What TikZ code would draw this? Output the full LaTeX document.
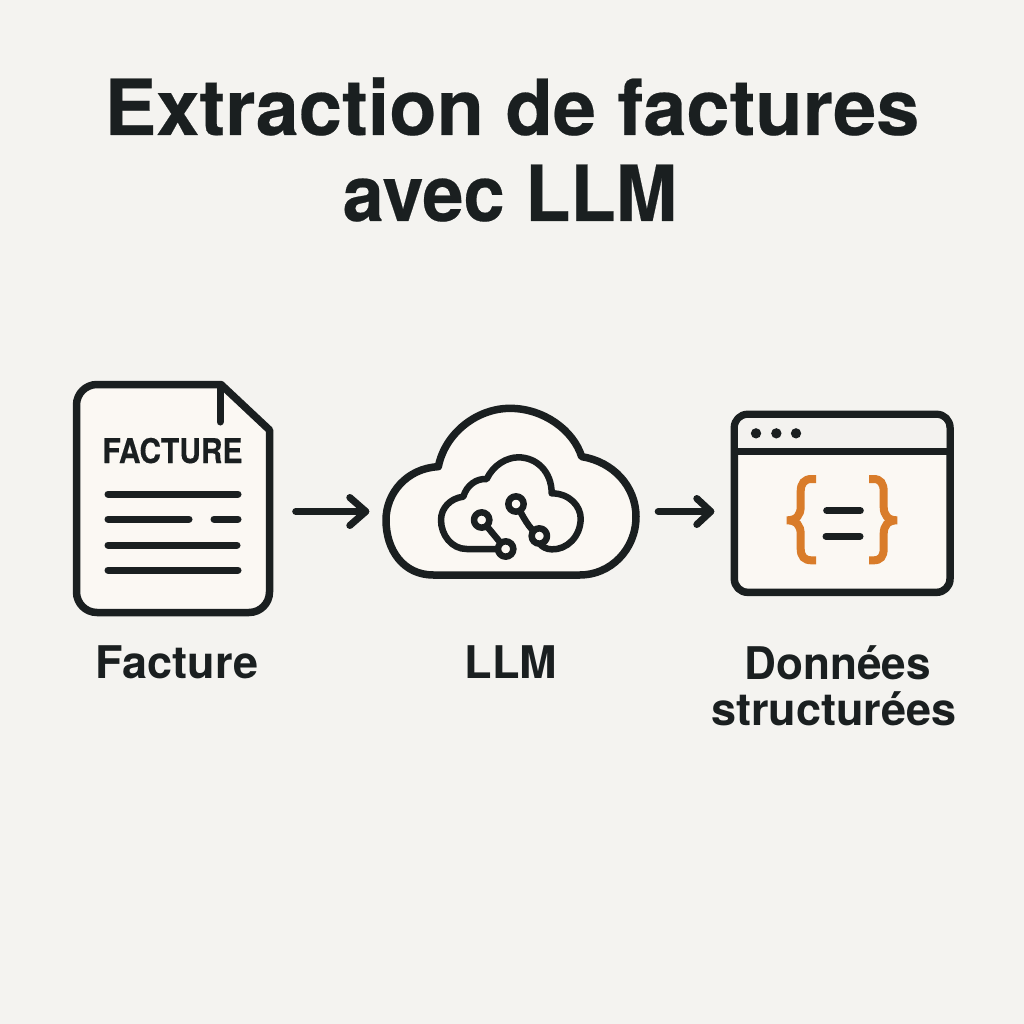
\documentclass[tikz,border=0pt]{standalone}
\usepackage{fontspec}
\setmainfont{TeX Gyre Heros}
\newfontfamily\titlefont[FakeBold=0.3]{TeX Gyre Heros}
\newfontfamily\labelfont{TeX Gyre Heros}
\definecolor{bgc}{HTML}{F4F3F0}
\definecolor{ink}{HTML}{1A1F20}
\definecolor{paper}{HTML}{FBF8F3}
\definecolor{barc}{HTML}{F3F2EF}
\definecolor{brace}{HTML}{D97C2A}
\tikzset{
  titletext/.style={inner sep=0pt,text=ink,font=\titlefont\bfseries\fontsize{77.5}{77.5}\selectfont,anchor=base},
  labeltext/.style={inner sep=0pt,text=ink,font=\labelfont\bfseries\fontsize{45}{45}\selectfont,anchor=base},
  outline/.style={draw=ink,line width=7.5pt,line join=round,fill=paper},
  rule/.style={draw=ink,line width=7pt,line cap=round},
  thin/.style={draw=ink,line width=6.5pt,line cap=round,line join=round},
  flow/.style={draw=ink,line width=7pt,line cap=round,line join=round},
  zone/.style={inner sep=0pt,minimum width=#1,minimum height=10pt},
}
\begin{document}
\begin{tikzpicture}[x=1pt,y=-1pt]
\useasboundingbox (0,0) rectangle (1024,1024);
\fill[bgc] (0,0) rectangle (1024,1024);
% title
\node[titletext] (t1) at (512,135) {Extraction de factures};
\node[titletext,xscale=0.955] (t2) at (510,221) {avec LLM};
% document
\draw[outline] (221,384.5) -- (269.5,430) -- (269.5,592) arc[start angle=0,end angle=90,radius=20.5]
  -- (97,612.5) arc[start angle=90,end angle=180,radius=20.5] -- (76.5,405) arc[start angle=180,end angle=270,radius=20.5] -- cycle;
\draw[rule] (220,386) -- (220,422);
\node[inner sep=0pt,text=ink,font=\titlefont\bfseries\fontsize{34}{34}\selectfont,anchor=base,xscale=0.88] (ftxt) at (172.5,463) {FACTURE};
\draw[rule] (108,494) -- (238,494);
\draw[rule] (108,519) -- (189,519);
\draw[rule] (214,519) -- (238,519);
\draw[rule] (108,545) -- (237,545);
\draw[rule] (108,570) -- (238,570);
\node[zone=193pt] (doc) at (173,511.5) {};
% cloud
\begin{scope}[shift={(370,400)},x=0.33333pt,y=-0.33333pt]
\draw[outline] (190,525) .. controls (100,525) and (48,450) .. (48,360)
  .. controls (48,280) and (110,205) .. (205,200)
  .. controls (225,100) and (320,25) .. (420,25)
  .. controls (520,25) and (610,90) .. (635,170)
  .. controls (730,185) and (798,260) .. (798,350)
  .. controls (798,450) and (720,525) .. (630,525) -- cycle;
\draw[thin] (385,447) -- (290,447) .. controls (245,447) and (213,405) .. (213,360)
  .. controls (213,325) and (240,295) .. (280,290)
  .. controls (290,255) and (320,235) .. (350,237)
  .. controls (370,195) and (410,172) .. (445,172)
  .. controls (500,172) and (545,215) .. (545,280)
  .. controls (600,280) and (632,320) .. (632,355)
  .. controls (632,410) and (590,450) .. (545,448) .. controls (530,448) and (515,440) .. (508,430);
\draw[thin] (335,360) -- (407,447);
\draw[thin] (438,312) .. controls (460,350) and (475,385) .. (508,408);
\foreach \cx/\cy in {335/360,407/447,438/312,508/408}
  \draw[thin,fill=paper] (\cx,\cy) circle[radius=23];
\end{scope}
\node[zone=242pt] (cloud) at (511,511.5) {};
% window
\begin{scope}[shift={(645,400)},x=0.33333pt,y=-0.33333pt]
\draw[outline] (268,83) arc[start angle=180,end angle=90,radius=13.33pt] -- (875,43) arc[start angle=90,end angle=0,radius=13.33pt]
  -- (915,537) arc[start angle=0,end angle=-90,radius=13.33pt] -- (308,577) arc[start angle=-90,end angle=-180,radius=13.33pt] -- cycle;
\fill[barc] (308,54) -- (875,54) arc[start angle=90,end angle=0,radius=9.6pt] -- (904,155) -- (279,155) -- (279,83) arc[start angle=180,end angle=90,radius=9.6pt] -- cycle;
\draw[draw=ink,line width=6.5pt] (268,155) -- (915,155);
\foreach \cx in {333,394,453}
  \fill[ink] (\cx,100) circle[radius=15.5];
\draw[draw=brace,line width=8pt,line join=miter] (513,237) -- (500,237) .. controls (478,237) and (467,250) .. (467,275) -- (467,320)
  .. controls (467,345) and (455,361) .. (426,361) .. controls (455,361) and (467,377) .. (467,402) -- (467,445)
  .. controls (467,470) and (478,481) .. (500,481) -- (513,481);
\draw[draw=brace,line width=8pt,line join=miter] (672,237) -- (685,237) .. controls (707,237) and (716,250) .. (716,275) -- (716,320)
  .. controls (716,345) and (728,361) .. (756,361) .. controls (728,361) and (716,377) .. (716,402) -- (716,445)
  .. controls (716,470) and (707,481) .. (685,481) -- (672,481);
\draw[rule] (545,332) -- (646,332);
\draw[rule] (543,409) -- (645,409);
\end{scope}
\node[zone=222pt] (win) at (842,511.5) {};
% connectors
\draw[flow] ([xshift=26pt]doc.east) -- ([xshift=-24pt]cloud.west);
\draw[flow] ([xshift=-40pt,yshift=-14pt]cloud.west) -- ([xshift=-24pt]cloud.west) -- ([xshift=-40pt,yshift=14pt]cloud.west);
\draw[flow] ([xshift=26pt]cloud.east) -- ([xshift=-20pt]win.west);
\draw[flow] ([xshift=-34pt,yshift=-13pt]win.west) -- ([xshift=-20pt]win.west) -- ([xshift=-34pt,yshift=13pt]win.west);
% labels
\node[labeltext] (l1) at (177,678) {Facture};
\node[labeltext] (l2) at (511,678) {LLM};
\node[labeltext,xscale=0.98] (l3) at (837.5,679) {Données};
\node[labeltext] (l4) at (834,725) {structurées};
\end{tikzpicture}
\end{document}
